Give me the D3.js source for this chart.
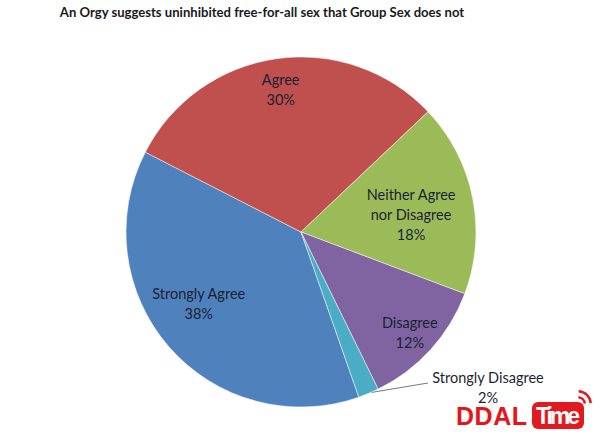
<!DOCTYPE html>
<html><head><meta charset="utf-8">
<script src="https://cdn.jsdelivr.net/npm/d3@7"></script>
<style>body{margin:0;background:#fff}svg{display:block}</style>
</head><body>
<svg id="c" width="600" height="436"></svg>
<script>
const categories = ["Strongly Agree","Agree","Neither Agree nor Disagree","Disagree","Strongly Disagree"];
const values = [37.9, 30.4, 17.8, 12.0, 1.9];
const colors = ["#4F81BD","#C0504D","#9BBB59","#8064A2","#4BACC6"];
const labelLines = [["Strongly Agree"],["Agree"],["Neither Agree","nor Disagree"],["Disagree"],["Strongly Disagree"]];
const title = "An Orgy suggests uninhibited free-for-all sex that Group Sex does not";

const svg = d3.select("#c");
const cx = 301, cy = 232, r = 175;
const font = "Lato, 'Open Sans', sans-serif";

svg.append("text").attr("x", 262).attr("y", 17).attr("text-anchor","middle")
  .attr("font-family", font).attr("font-weight","bold").attr("font-size", 13.1)
  .attr("fill","#1a1a1a").text(title);

const pie = d3.pie().sort(null).value(d => d)
  .startAngle(160.7*Math.PI/180).endAngle((160.7+360)*Math.PI/180);
const arcs = pie(values);
const arc = d3.arc().innerRadius(0).outerRadius(r);
const g = svg.append("g").attr("transform", `translate(${cx},${cy})`);
g.selectAll("path").data(arcs).enter().append("path")
  .attr("d", arc).attr("fill", (d,i) => colors[i])
  .attr("stroke", "#fff").attr("stroke-width", 0.5);

const radiusFactor = [0.73, 0.82, 0.63, 0.84];
const nudge = [[-6,-12],[0,0],[2,5],[0,2]];
const pct = values.map(v => Math.round(v) + "%");
const txtColor = "#1b1f33";
const fs = 14.5;
arcs.forEach((d,i) => {
  if (i === 4) return;
  const la = d3.arc().innerRadius(r*radiusFactor[i]).outerRadius(r*radiusFactor[i]);
  let [lx, ly] = la.centroid(d);
  lx += nudge[i][0]; ly += nudge[i][1];
  const lines = labelLines[i].concat([pct[i]]);
  const n = lines.length;
  const t = g.append("text").attr("text-anchor","middle")
    .attr("font-family", font).attr("font-size", fs).attr("fill", txtColor);
  lines.forEach((s, k) => {
    t.append("tspan").attr("x", lx).attr("y", ly + (k - (n-1)/2)*20 + 5).text(s);
  });
});
// Strongly Disagree: outside label with leader line
{
  const d = arcs[4];
  const mid = (d.startAngle + d.endAngle)/2;
  const ex = Math.sin(mid)*r, ey = -Math.cos(mid)*r;
  g.append("path").attr("d", `M${ex+3},${ey-1} L${428-cx},${383-cy}`)
    .attr("stroke","#555").attr("stroke-width",0.8).attr("fill","none");
  const t = g.append("text").attr("text-anchor","middle")
    .attr("font-family", font).attr("font-size", fs).attr("fill", txtColor);
  t.append("tspan").attr("x", 488-cx).attr("y", 383-cy).text(labelLines[4][0]);
  t.append("tspan").attr("x", 488-cx).attr("y", 403-cy).text(pct[4]);
}

// watermark
const wm = svg.append("g");
wm.append("text").attr("x", 456).attr("y", 425).attr("font-family","'Liberation Sans Narrow','Liberation Sans',Arial,sans-serif")
  .attr("font-weight","bold").attr("font-size", 25).attr("fill","#e8141b").attr("textLength", 71).text("DDAL");
wm.append("rect").attr("x", 532).attr("y", 402).attr("width", 52).attr("height", 27).attr("rx", 6)
  .attr("fill","#e01a1f");
wm.append("text").attr("x", 558).attr("y", 424).attr("text-anchor","middle")
  .attr("font-family","'Liberation Sans Narrow','Liberation Sans',Arial,sans-serif")
  .attr("font-weight","bold").attr("font-size", 23).attr("fill","#fff").attr("textLength", 44).text("Time");
[8, 14].forEach(rr => {
  wm.append("path").attr("d", d3.arc().innerRadius(rr-2.5).outerRadius(rr).startAngle(0.05).endAngle(1.5)())
    .attr("transform","translate(578,404)").attr("fill","#e01a1f");
});
</script>
</body></html>
